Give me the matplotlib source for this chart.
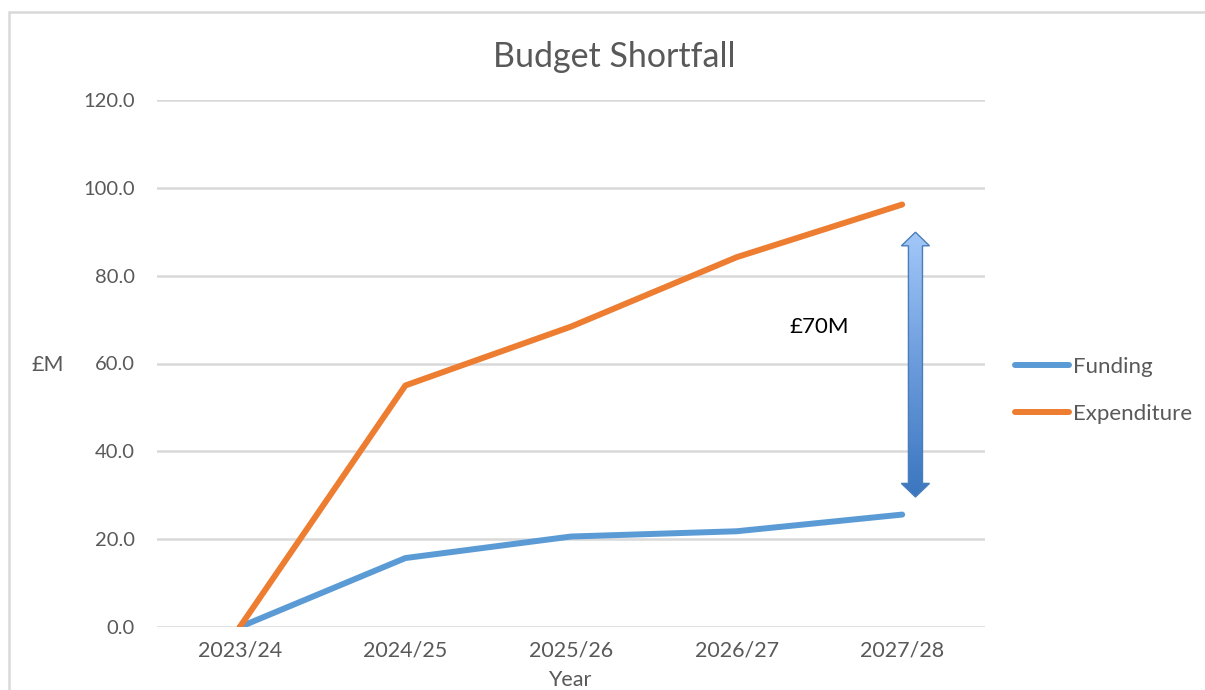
import matplotlib.pyplot as plt
import numpy as np
from matplotlib.patches import Polygon, Rectangle
from matplotlib.colors import LinearSegmentedColormap

years = ['2023/24', '2024/25', '2025/26', '2026/27', '2027/28']
funding = [0.0, 15.7, 20.6, 21.8, 25.6]
expenditure = [0.0, 55.0, 68.4, 84.2, 96.2]
yticks = [0, 20, 40, 60, 80, 100, 120]

# shortfall arrow (data units)
arrow_x = 4.08
arrow_top = 89.9
arrow_bottom = 29.6
gap_label = '£70M'

plt.rcParams['font.family'] = ['Lato', 'DejaVu Sans']
grey = '#595959'

fig = plt.figure(figsize=(12.05, 6.9), dpi=100)
fig.patches.append(Rectangle((9/1205, -0.1), 1.2, 1 - 12/690 + 0.1, transform=fig.transFigure,
                             fill=False, ec='#d9d9d9', lw=1.8))
ax = fig.add_axes([157/1205, 1-627/690, 828/1205, 527/690])

x = np.arange(len(years))
ax.plot(x, funding, color='#5B9BD5', lw=4.3, solid_capstyle='round', label='Funding', zorder=3)
ax.plot(x, expenditure, color='#ED7D31', lw=4.3, solid_capstyle='round', label='Expenditure', zorder=3)

ax.set_yticks(yticks)
ax.set_yticklabels(['%.1f' % v for v in yticks])
ax.set_xticks(x)
ax.set_xticklabels(years)
ax.grid(axis='y', color='#d9d9d9', lw=1.8)
ax.set_axisbelow(True)
for s in ax.spines.values():
    s.set_visible(False)
ax.tick_params(axis='y', length=0, pad=16, labelsize=14.5, labelcolor=grey)
ax.tick_params(axis='x', length=0, pad=10, labelsize=15.5, labelcolor=grey)

# double-headed block arrow with gradient fill
sw = 14/165/2      # half shaft width
hw = 28/165/2      # half head width
hl = 3.1           # head length
pts = [(arrow_x, arrow_top), (arrow_x + hw, arrow_top - hl), (arrow_x + sw, arrow_top - hl),
       (arrow_x + sw, arrow_bottom + hl), (arrow_x + hw, arrow_bottom + hl), (arrow_x, arrow_bottom),
       (arrow_x - hw, arrow_bottom + hl), (arrow_x - sw, arrow_bottom + hl), (arrow_x - sw, arrow_top - hl),
       (arrow_x - hw, arrow_top - hl)]
arrow = Polygon(pts, closed=True, fc='none', ec='#4a7ebb', lw=1.0, zorder=5)
ax.add_patch(arrow)
cmap = LinearSegmentedColormap.from_list('arr', ['#3a76c0', '#6b9bdc', '#a3c8f9'])
grad = np.linspace(0, 1, 256).reshape(-1, 1)
im = ax.imshow(grad, cmap=cmap, origin='lower', aspect='auto', zorder=4,
               extent=[arrow_x - hw, arrow_x + hw, arrow_bottom, arrow_top])
im.set_clip_path(arrow)
ax.set_xlim(-0.5, len(years) - 0.5)
ax.set_ylim(0, 120)

ax.text(3.5, 68.2, gap_label, fontsize=16, color='black', ha='center', va='center')

fig.text(614/1205, 1-57/690, 'Budget Shortfall', fontsize=24.5, color=grey, ha='center', va='center')
fig.text(48/1205, 1-365/690, '£M', fontsize=15.5, color=grey, ha='center', va='center')
fig.text(570/1205, 1-680/690, 'Year', fontsize=15.5, color=grey, ha='center', va='center')

fig.legend(loc='center left', bbox_to_anchor=(1015/1205, 1-390.5/690), frameon=False,
           fontsize=16, labelcolor=grey, handlelength=2.45, handletextpad=0.15,
           labelspacing=1.2, borderpad=0, borderaxespad=0)

fig.savefig('out.png', dpi=100)
